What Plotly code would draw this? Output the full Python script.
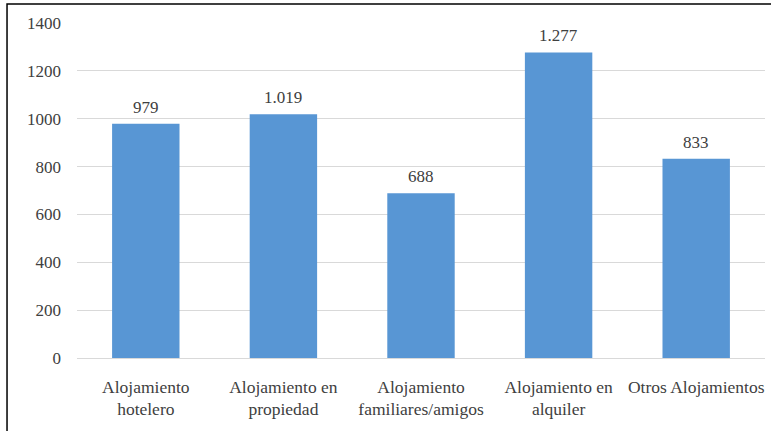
import plotly.graph_objects as go

categories = ["Alojamiento<br>hotelero", "Alojamiento en<br>propiedad", "Alojamiento<br>familiares/amigos",
              "Alojamiento en<br>alquiler", "Otros Alojamientos"]
values = [979, 1019, 688, 1277, 833]
tick_vals = [0, 200, 400, 600, 800, 1000, 1200, 1400]

FONT = "'Liberation Serif', 'Times New Roman', Tinos, 'DejaVu Serif', serif"
TXT = "#404040"

fig = go.Figure(go.Bar(
    x=categories, y=values,
    marker=dict(color="#5896d4", line=dict(width=0)),
    width=0.49,
))

for c, v in zip(categories, values):
    fig.add_annotation(x=c, y=v, text=f"{v:,}".replace(",", "."), showarrow=False,
                       yanchor="bottom", yshift=5,
                       font=dict(family=FONT, size=17, color=TXT))

fig.update_layout(
    width=771, height=431,
    margin=dict(l=77, r=6, t=23, b=73),
    paper_bgcolor="white", plot_bgcolor="white",
    showlegend=False,
    font=dict(family=FONT, size=17, color=TXT),
    xaxis=dict(showgrid=False, showline=False, zeroline=False, ticks="",
               tickfont=dict(family=FONT, size=17.5, color=TXT), ticklabelstandoff=16),
    yaxis=dict(range=[0, 1400], tickvals=tick_vals, tickformat="d",
               showgrid=True, gridcolor="#d9d9d9", gridwidth=1.2,
               zeroline=True, zerolinecolor="#d9d9d9", zerolinewidth=1.2,
               showline=False, ticks="",
               tickfont=dict(family=FONT, size=17, color=TXT), ticklabelstandoff=15),
    shapes=[dict(type="rect", xref="paper", yref="paper",
                 x0=-0.1017, x1=1.3, y0=-0.6, y1=1.0567,
                 line=dict(color="black", width=1.5), fillcolor="rgba(0,0,0,0)", layer="above")],
)

fig.write_html("out.html", config={"displayModeBar": False, "displaylogo": False},
               post_script="document.body.style.margin='0';")
